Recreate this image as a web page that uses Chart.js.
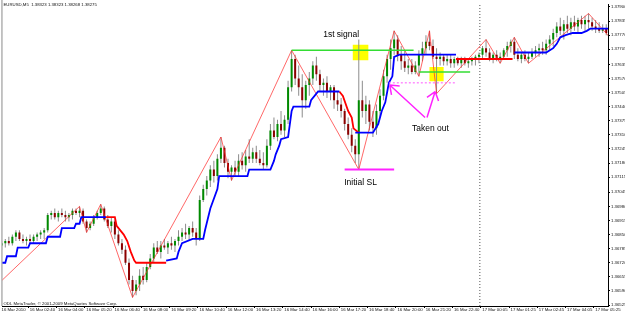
<!DOCTYPE html>
<html>
<head>
<meta charset="utf-8">
<script src="https://cdn.jsdelivr.net/npm/chart.js@4.4.0/dist/chart.umd.min.js"></script>
<style>
  html, body { margin: 0; padding: 0; background: #fff; }
  canvas { display: block; }
</style>
</head>
<body>
<canvas id="chart" width="625" height="315"></canvas>
<script>
const chartTitle = "EURUSD,M5  1.38323 1.38323 1.38268 1.38275";
const watermark = "ODL MetaTrader, \u00a9 2001-2009 MetaQuotes Software Corp.";

const timeLabels = ["16 Mar 2010", "16 Mar 02:40", "16 Mar 04:00", "16 Mar 05:20", "16 Mar 06:40",
  "16 Mar 08:00", "16 Mar 09:20", "16 Mar 10:40", "16 Mar 12:00", "16 Mar 13:20", "16 Mar 14:40",
  "16 Mar 16:00", "16 Mar 17:20", "16 Mar 18:40", "16 Mar 20:00", "16 Mar 21:20", "16 Mar 22:40",
  "17 Mar 00:05", "17 Mar 01:25", "17 Mar 02:45", "17 Mar 04:05", "17 Mar 05:25"];
// M5 bar number of each time label
const timeTickBars = [0, 16, 32, 48, 64, 80, 96, 112, 128, 144, 160, 176, 192, 208, 224, 240, 256, 272, 288, 304, 320, 336];
const dayBreakBar = 271.5;

const priceTicks = ["1.37900", "1.37835", "1.37770", "1.37705", "1.37635", "1.37570", "1.37505", "1.37440",
  "1.37375", "1.37310", "1.37245", "1.37180", "1.37115", "1.37045", "1.36980", "1.36915", "1.36850",
  "1.36785", "1.36720", "1.36655", "1.36590", "1.36525"];

// candles [open, high, low, close], one per two M5 bars, starting at bar 1
const candles = [
  [1.3680,1.3682,1.3678,1.3681],[1.3681,1.3683,1.3679,1.3682],[1.3682,1.3684,1.3680,1.3681],[1.3681,1.3685,1.3680,1.3684],
  [1.3684,1.3687,1.3682,1.3686],[1.3686,1.3687,1.3682,1.3683],[1.3683,1.3685,1.3681,1.3682],[1.3682,1.3684,1.3680,1.3683],
  [1.3683,1.3685,1.3681,1.3682],[1.3682,1.3685,1.3681,1.3684],[1.3684,1.3686,1.3682,1.3685],[1.3685,1.3687,1.3683,1.3686],
  [1.3686,1.3688,1.3683,1.3687],[1.3687,1.3695,1.3686,1.3694],[1.3694,1.3696,1.3692,1.3695],[1.3695,1.3697,1.3692,1.3693],
  [1.3693,1.3696,1.3691,1.3695],[1.3695,1.3697,1.3693,1.3694],[1.3694,1.3696,1.3691,1.3693],[1.3693,1.3695,1.3691,1.3694],
  [1.3694,1.3697,1.3692,1.3696],[1.3696,1.3697,1.3694,1.3695],[1.3695,1.3698,1.3693,1.3696],[1.3696,1.3697,1.3690,1.3691],
  [1.3691,1.3692,1.3686,1.3688],[1.3688,1.3691,1.3687,1.3690],[1.3690,1.3694,1.3689,1.3693],[1.3693,1.3696,1.3692,1.3695],
  [1.3695,1.3699,1.3694,1.3697],[1.3697,1.3698,1.3691,1.3692],[1.3692,1.3694,1.3688,1.3689],[1.3689,1.3693,1.3686,1.3691],
  [1.3691,1.3692,1.3683,1.3685],[1.3685,1.3687,1.3680,1.3681],[1.3681,1.3683,1.3676,1.3678],[1.3678,1.3680,1.3671,1.3672],
  [1.3672,1.3674,1.3662,1.3664],[1.3664,1.3666,1.3656,1.3659],[1.3659,1.3664,1.3657,1.3662],[1.3662,1.3669,1.3659,1.3666],
  [1.3666,1.3670,1.3662,1.3664],[1.3664,1.3672,1.3663,1.3670],[1.3670,1.3676,1.3669,1.3674],[1.3674,1.3681,1.3672,1.3679],
  [1.3679,1.3682,1.3676,1.3677],[1.3677,1.3682,1.3674,1.3680],[1.3680,1.3683,1.3678,1.3679],[1.3679,1.3682,1.3676,1.3681],
  [1.3681,1.3684,1.3678,1.3680],[1.3680,1.3683,1.3677,1.3682],[1.3682,1.3687,1.3680,1.3684],[1.3684,1.3688,1.3682,1.3686],
  [1.3686,1.3690,1.3683,1.3685],[1.3685,1.3689,1.3682,1.3688],[1.3688,1.3691,1.3684,1.3686],[1.3686,1.3688,1.3680,1.3683],
  [1.3683,1.3703,1.3682,1.3701],[1.3701,1.3708,1.3700,1.3706],[1.3706,1.3712,1.3703,1.3710],[1.3710,1.3717,1.3707,1.3715],
  [1.3715,1.3719,1.3709,1.3712],[1.3712,1.3722,1.3710,1.3720],[1.3720,1.3730,1.3718,1.3725],[1.3725,1.3726,1.3716,1.3718],
  [1.3718,1.3720,1.3711,1.3714],[1.3714,1.3717,1.3710,1.3716],[1.3716,1.3719,1.3712,1.3714],[1.3714,1.3722,1.3712,1.3719],
  [1.3719,1.3723,1.3715,1.3717],[1.3717,1.3724,1.3714,1.3721],[1.3721,1.3729,1.3718,1.3720],[1.3720,1.3725,1.3718,1.3723],
  [1.3723,1.3726,1.3718,1.3720],[1.3720,1.3724,1.3717,1.3718],[1.3718,1.3723,1.3715,1.3717],[1.3717,1.3729,1.3716,1.3726],
  [1.3726,1.3736,1.3724,1.3733],[1.3733,1.3739,1.3729,1.3730],[1.3730,1.3738,1.3728,1.3736],[1.3736,1.3742,1.3731,1.3733],
  [1.3733,1.3740,1.3730,1.3738],[1.3738,1.3756,1.3736,1.3753],[1.3753,1.3770,1.3751,1.3766],[1.3766,1.3768,1.3754,1.3757],
  [1.3757,1.3763,1.3749,1.3753],[1.3753,1.3759,1.3739,1.3747],[1.3747,1.3756,1.3743,1.3754],[1.3754,1.3760,1.3749,1.3757],
  [1.3757,1.3765,1.3754,1.3763],[1.3763,1.3767,1.3756,1.3759],[1.3759,1.3761,1.3751,1.3754],[1.3754,1.3757,1.3749,1.3755],
  [1.3755,1.3758,1.3748,1.3751],[1.3751,1.3754,1.3747,1.3753],[1.3753,1.3754,1.3743,1.3747],[1.3747,1.3751,1.3742,1.3745],
  [1.3745,1.3748,1.3739,1.3742],[1.3742,1.3743,1.3733,1.3736],[1.3736,1.3739,1.3729,1.3731],[1.3731,1.3734,1.3723,1.3726],
  [1.3726,1.3729,1.3718,1.3722],[1.3722,1.3775,1.3715,1.3747],[1.3747,1.3756,1.3739,1.3742],[1.3742,1.3749,1.3736,1.3745],
  [1.3745,1.3747,1.3733,1.3737],[1.3737,1.3742,1.3730,1.3734],[1.3734,1.3745,1.3731,1.3742],[1.3742,1.3752,1.3739,1.3749],
  [1.3749,1.3761,1.3747,1.3758],[1.3758,1.3768,1.3755,1.3766],[1.3766,1.3775,1.3761,1.3771],[1.3771,1.3779,1.3768,1.3775],
  [1.3775,1.3777,1.3765,1.3768],[1.3768,1.3772,1.3761,1.3765],[1.3765,1.3770,1.3760,1.3762],[1.3762,1.3766,1.3759,1.3763],
  [1.3763,1.3766,1.3759,1.3760],[1.3760,1.3765,1.3759,1.3763],[1.3763,1.3770,1.3758,1.3768],[1.3768,1.3774,1.3765,1.3771],
  [1.3771,1.3777,1.3768,1.3774],[1.3774,1.3779,1.3770,1.3772],[1.3772,1.3775,1.3766,1.3767],[1.3767,1.3771,1.3750,1.3766],
  [1.3766,1.3769,1.3763,1.3767],[1.3767,1.3768,1.3763,1.3765],[1.3765,1.3768,1.3763,1.3766],[1.3766,1.3768,1.3762,1.3764],
  [1.3764,1.3767,1.3762,1.3766],[1.3766,1.3767,1.3763,1.3764],[1.3764,1.3767,1.3762,1.3766],[1.3766,1.3767,1.3763,1.3764],
  [1.3764,1.3766,1.3762,1.3765],[1.3765,1.3767,1.3763,1.3766],[1.3766,1.3768,1.3763,1.3767],[1.3767,1.3769,1.3764,1.3768],
  [1.3768,1.3772,1.3766,1.3771],[1.3771,1.3775,1.3767,1.3769],[1.3769,1.3771,1.3765,1.3766],[1.3766,1.3769,1.3764,1.3768],
  [1.3768,1.3770,1.3765,1.3766],[1.3766,1.3769,1.3764,1.3767],[1.3767,1.3771,1.3766,1.3770],[1.3770,1.3774,1.3767,1.3772],
  [1.3772,1.3775,1.3769,1.3774],[1.3774,1.3776,1.3766,1.3768],[1.3768,1.3771,1.3765,1.3766],[1.3766,1.3769,1.3764,1.3768],
  [1.3768,1.3770,1.3765,1.3766],[1.3766,1.3769,1.3764,1.3767],[1.3767,1.3771,1.3766,1.3769],[1.3769,1.3772,1.3767,1.3770],
  [1.3770,1.3773,1.3767,1.3771],[1.3771,1.3774,1.3768,1.3770],[1.3770,1.3775,1.3768,1.3773],[1.3773,1.3777,1.3770,1.3775],
  [1.3775,1.3780,1.3772,1.3778],[1.3778,1.3783,1.3776,1.3781],[1.3781,1.3785,1.3777,1.3779],[1.3779,1.3784,1.3775,1.3782],
  [1.3782,1.3786,1.3778,1.3780],[1.3780,1.3785,1.3777,1.3783],[1.3783,1.3786,1.3779,1.3781],[1.3781,1.3785,1.3778,1.3784],
  [1.3784,1.3786,1.3780,1.3782],[1.3782,1.3786,1.3779,1.3784],[1.3784,1.3787,1.3780,1.3783],[1.3783,1.3785,1.3779,1.3781],
  [1.3781,1.3784,1.3778,1.3780],[1.3780,1.3783,1.3778,1.3779],[1.3779,1.3782,1.3778,1.3780],[1.3780,1.3782,1.3777,1.3778]
];

// trailing stop lines: [bar, price], one array per stretch
const blueStop = [
  [[0,1.3672],[3,1.3672],[4,1.3675],[9,1.3675],[10,1.3679],[16,1.3679],[17,1.3681],[26,1.3681],[27,1.3684],[34,1.3684],
   [35,1.3688],[42,1.3688],[43,1.3690],[45,1.3690],[46,1.3693],[60,1.3693]],
  [[94,1.3673],[100,1.3674],[101,1.3677],[103,1.3681],[109,1.3683],[115,1.3683],[116,1.3687],[119,1.3697],[123,1.3706],
   [124,1.3712],[140,1.3712],[141,1.3715],[153,1.3715],[155,1.3719],[156,1.3722],[158,1.3726],[159,1.3729],[163,1.3730],
   [165,1.3742],[166,1.3744],[175,1.3744],[176,1.3747],[180,1.3751],[192,1.3751]],
  [[201,1.3732],[211,1.3732],[214,1.3736],[216,1.3742],[218,1.3746],[220,1.3755],[222,1.3758],[223,1.3767],[226,1.3768],[258,1.3768]],
  [[291,1.3769],[309,1.3769],[313,1.3771],[315,1.3773],[317,1.3776],[320,1.3777],[324,1.3778],[329,1.3778],[332,1.3779],
   [334,1.3780],[345,1.3780]]
];
const redStop = [
  [[60,1.3693],[65,1.3693],[66,1.3689],[70,1.3685],[72,1.3682],[74,1.3677],[76,1.3673],[77,1.3672],[94,1.3672]],
  [[192,1.3751],[194,1.3749],[197,1.3742],[199,1.3739],[200,1.3734],[203,1.3732]],
  [[258,1.3766],[290,1.3766]]
];

const zigzag = [[0,1.3663],[45,1.3698],[49,1.3686],[57,1.3699],[75,1.3656],[125,1.3730],[131,1.3710],[165,1.3770],
  [203,1.3715],[223,1.3779],[237,1.3758],[243,1.3779],[247,1.3750],[275,1.3775],[283,1.3764],[291,1.3776],
  [299,1.3764],[333,1.3787],[345,1.3776]];

// drawn annotations: [fromBar, toBar, price]
const greenLevels = [[165, 234, 1.3770], [237, 266, 1.3760]];
const signalBoxes = [[204, 1.3769], [247, 1.3759]];
const initialStop = [195, 223, 1.3715];
const takenLevel = [220, 258, 1.3755];
// [fromBar, fromPrice, toBar, toPrice]
const arrows = [[240.5, 1.3739, 220.5, 1.3754], [241.6, 1.3739, 246.2, 1.3751]];
const notes = [
  { text: "1st signal", bar: 193, price: 1.37773 },
  { text: "Taken out", bar: 243.5, price: 1.3734 },
  { text: "Initial SL", bar: 204, price: 1.3709 }
];

const priceMin = 1.365204, priceMax = 1.379138;

function segData(segs) {
  const out = [];
  segs.forEach(s => {
    s.forEach(p => out.push({ x: p[0], y: p[1] }));
    out.push({ x: s[s.length - 1][0], y: null });
  });
  return out;
}
function levelData(levels) {
  const out = [];
  levels.forEach(l => {
    out.push({ x: l[0], y: l[2] }, { x: l[1], y: l[2] }, { x: l[1], y: null });
  });
  return out;
}

const bullColor = "#008a00";
const bearColor = "#8b0000";
const tinyFont = { family: "Liberation Sans", size: 4.3, lineHeight: 1 };

const notesPlugin = {
  id: "notes",
  beforeDatasetsDraw(chart) {
    const { ctx, chartArea } = chart;
    ctx.save();
    ctx.strokeStyle = "#8a8a8a";
    ctx.lineWidth = 1;
    ctx.beginPath();
    ctx.moveTo(chartArea.left - 0.5, 0);
    ctx.lineTo(chartArea.left - 0.5, chartArea.bottom);
    ctx.stroke();
    ctx.restore();
  },
  afterDatasetsDraw(chart) {
    const { ctx, chartArea, scales: { x, y } } = chart;
    ctx.save();
    // magenta arrows
    ctx.strokeStyle = "#ff22ff";
    ctx.lineWidth = 1.5;
    arrows.forEach(a => {
      const x0 = x.getPixelForValue(a[0]), y0 = y.getPixelForValue(a[1]);
      const x1 = x.getPixelForValue(a[2]), y1 = y.getPixelForValue(a[3]);
      const ang = Math.atan2(y0 - y1, x0 - x1);
      ctx.beginPath();
      ctx.moveTo(x0, y0);
      ctx.lineTo(x1, y1);
      [-0.65, 0.65].forEach(d => {
        ctx.moveTo(x1, y1);
        ctx.lineTo(x1 + 10 * Math.cos(ang + d), y1 + 10 * Math.sin(ang + d));
      });
      ctx.stroke();
    });
    ctx.fillStyle = "#000";
    ctx.font = '8.5px "Liberation Sans", Arial, sans-serif';
    ctx.textAlign = "center";
    ctx.textBaseline = "middle";
    notes.forEach(n => ctx.fillText(n.text, x.getPixelForValue(n.bar), y.getPixelForValue(n.price)));
    ctx.font = '4.3px "Liberation Sans", Arial, sans-serif';
    ctx.textAlign = "left";
    ctx.fillStyle = "#111";
    ctx.fillText(chartTitle, chartArea.left + 1, 5);
    ctx.fillText(watermark, chartArea.left + 1, chartArea.bottom - 2.5);
    ctx.restore();
  }
};

new Chart(document.getElementById("chart"), {
  type: "bar",
  data: {
    datasets: [
      {
        type: "line",
        label: "day",
        data: [{ x: dayBreakBar, y: priceMin }, { x: dayBreakBar, y: priceMax }],
        borderColor: "#555",
        borderWidth: 1,
        borderDash: [1, 2],
        pointRadius: 0,
        order: 20
      },
      {
        type: "scatter",
        label: "signal",
        data: signalBoxes.map(b => ({ x: b[0], y: b[1] })),
        pointStyle: "rect",
        pointRadius: [11, 10],
        backgroundColor: "#ffff00",
        borderWidth: 0,
        order: 15
      },
      {
        label: "wicks",
        data: candles.map((c, k) => ({ x: 2 * k + 1, y: [c[2], c[1]] })),
        backgroundColor: "#8c8c8c",
        barThickness: 1,
        grouped: false,
        inflateAmount: 0,
        order: 10
      },
      {
        label: "bodies",
        data: candles.map((c, k) => ({ x: 2 * k + 1, y: [c[0], c[3]] })),
        backgroundColor: ctx => {
          const c = candles[ctx.dataIndex];
          return c && c[3] >= c[0] ? bullColor : bearColor;
        },
        barThickness: 2,
        minBarLength: 1,
        grouped: false,
        inflateAmount: 0,
        order: 9
      },
      {
        type: "line",
        label: "zigzag",
        data: zigzag.map(p => ({ x: p[0], y: p[1] })),
        borderColor: "rgba(255,40,40,0.7)",
        borderWidth: 1,
        pointRadius: 0,
        order: 8
      },
      {
        type: "line",
        label: "red stop",
        data: segData(redStop),
        borderColor: "#ff0000",
        borderWidth: 1.8,
        pointRadius: 0,
        spanGaps: false,
        order: 6
      },
      {
        type: "line",
        label: "blue stop",
        data: segData(blueStop),
        borderColor: "#0000ff",
        borderWidth: 1.8,
        pointRadius: 0,
        spanGaps: false,
        order: 5
      },
      {
        type: "line",
        label: "levels",
        data: levelData(greenLevels),
        borderColor: "#33dd33",
        borderWidth: 1.5,
        pointRadius: 0,
        spanGaps: false,
        order: 3
      },
      {
        type: "line",
        label: "taken",
        data: levelData([takenLevel]),
        borderColor: "#ff55ff",
        borderWidth: 1,
        borderDash: [2, 2],
        pointRadius: 0,
        order: 2
      },
      {
        type: "line",
        label: "initial sl",
        data: levelData([initialStop]),
        borderColor: "#ff22ff",
        borderWidth: 2,
        pointRadius: 0,
        order: 1
      }
    ]
  },
  options: {
    responsive: false,
    animation: false,
    events: [],
    layout: { autoPadding: false, padding: { left: 2, top: 4, right: 0, bottom: 0 } },
    plugins: { legend: { display: false }, tooltip: { enabled: false } },
    scales: {
      x: {
        type: "linear",
        min: 1.4,
        max: 344,
        offset: false,
        afterBuildTicks: s => { s.ticks = timeTickBars.map(v => ({ value: v })); },
        afterFit: s => { s.height = 9; },
        ticks: {
          callback: (v, i) => timeLabels[i],
          align: "start",
          labelOffset: 1.5,
          maxRotation: 0,
          minRotation: 0,
          autoSkip: false,
          padding: 0,
          color: "#111",
          font: tinyFont
        },
        grid: { offset: false, drawOnChartArea: false, tickLength: 2, color: "#000" },
        border: { display: true, color: "#000" }
      },
      y: {
        position: "right",
        min: priceMin,
        max: priceMax,
        beginAtZero: false,
        afterBuildTicks: s => { s.ticks = priceTicks.map(t => ({ value: parseFloat(t) })); },
        afterFit: s => { s.width = 17; },
        ticks: {
          callback: (v, i) => priceTicks[i],
          autoSkip: false,
          padding: 1,
          color: "#111",
          font: tinyFont
        },
        grid: { drawOnChartArea: false, tickLength: 2, color: "#000" },
        border: { display: true, color: "#000" }
      }
    }
  },
  plugins: [notesPlugin]
});
</script>
</body>
</html>
